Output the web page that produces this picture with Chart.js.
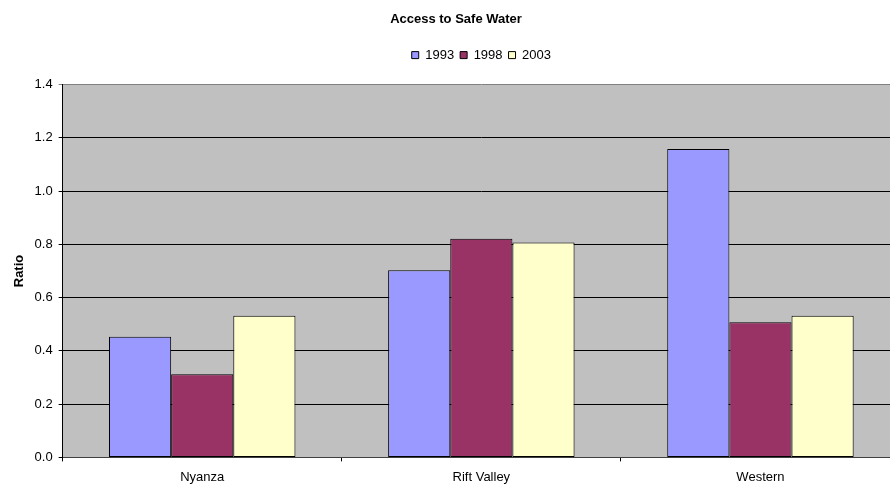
<!DOCTYPE html>
<html>
<head>
<meta charset="utf-8">
<script src="https://cdn.jsdelivr.net/npm/chart.js@4/dist/chart.umd.min.js"></script>
<style>
  html, body { margin: 0; padding: 0; background: #ffffff; overflow: hidden; }
  #wrap { width: 926px; height: 493px; position: relative; }
</style>
</head>
<body>
<div id="wrap"><canvas id="chart"></canvas></div>
<script>
// Regions and survey years
const regions = ['Nyanza', 'Rift Valley', 'Western'];
const years = ['1993', '1998', '2003'];

// Access ratio per region, one array per survey year
const ratio1993 = [0.453, 0.703, 1.158];
const ratio1998 = [0.312, 0.821, 0.508];
const ratio2003 = [0.532, 0.807, 0.532];

const yTicks = [0.0, 0.2, 0.4, 0.6, 0.8, 1.0, 1.2, 1.4];

const fills = ['#9999FF', '#993366', '#FFFFCC'];
const seriesValues = [ratio1993, ratio1998, ratio2003];

// Grey plot-area background
const plotBackground = {
  id: 'plotBackground',
  beforeDraw(chart) {
    const { ctx, chartArea: a } = chart;
    ctx.save();
    ctx.fillStyle = '#C0C0C0';
    ctx.fillRect(a.left, a.top, a.right - a.left, a.bottom - a.top);
    ctx.restore();
  }
};

// Leave a fixed band for the legend between the title and the plot
const LEGEND_BAND = 42;
const legendBand = {
  id: 'legendBand',
  beforeLayout(chart) {
    const lg = chart.legend;
    if (lg && !lg._bandPatched) {
      const fit = lg.fit;
      lg.fit = function () {
        fit.call(this);
        this.height = LEGEND_BAND;
      };
      lg._bandPatched = true;
    }
  }
};

const fontFamily = '"Liberation Sans", Arial, sans-serif';
Chart.defaults.font.family = fontFamily;
Chart.defaults.color = '#000000';

new Chart(document.getElementById('chart'), {
  type: 'bar',
  data: {
    labels: regions,
    datasets: years.map((y, i) => ({
      label: y,
      data: seriesValues[i],
      backgroundColor: fills[i],
      borderColor: '#000000',
      borderWidth: 1,
      borderSkipped: false,
      barPercentage: 1.0,
      categoryPercentage: 0.668
    }))
  },
  options: {
    responsive: true,
    maintainAspectRatio: false,
    animation: false,
    devicePixelRatio: 1,
    layout: { padding: { left: 12, right: 26, top: 0, bottom: 0 } },
    plugins: {
      title: {
        display: true,
        text: 'Access to Safe Water',
        font: { size: 13, weight: 'bold' },
        color: '#000000',
        padding: { top: 11.5, bottom: 15.5 }
      },
      legend: {
        display: true,
        position: 'top',
        fullSize: false,
        labels: {
          boxWidth: 7,
          boxHeight: 7,
          padding: 6,
          font: { size: 13 },
          color: '#000000'
        }
      },
      tooltip: { enabled: false }
    },
    scales: {
      x: {
        offset: true,
        grid: {
          offset: true,
          drawOnChartArea: false,
          drawTicks: true,
          tickLength: 4,
          color: '#000000'
        },
        border: { display: true, color: '#404040', width: 1 },
        ticks: { font: { size: 13 }, color: '#000000', padding: 8 }
      },
      y: {
        min: 0,
        max: 1.4,
        afterBuildTicks(scale) {
          scale.ticks = yTicks.map(v => ({ value: v }));
        },
        grid: {
          color: ctx => (ctx.tick && ctx.tick.value >= 1.4 ? '#808080' : '#000000'),
          lineWidth: 1,
          tickLength: 4,
          drawTicks: true
        },
        border: { display: true, color: '#000000', width: 1 },
        ticks: {
          font: { size: 13 },
          color: '#000000',
          padding: 6,
          callback: v => Number(v).toFixed(1)
        },
        title: {
          display: true,
          text: 'Ratio',
          font: { size: 13, weight: 'bold' },
          color: '#000000',
          padding: { top: 0, bottom: 1 }
        }
      }
    }
  },
  plugins: [plotBackground, legendBand]
});
</script>
</body>
</html>
